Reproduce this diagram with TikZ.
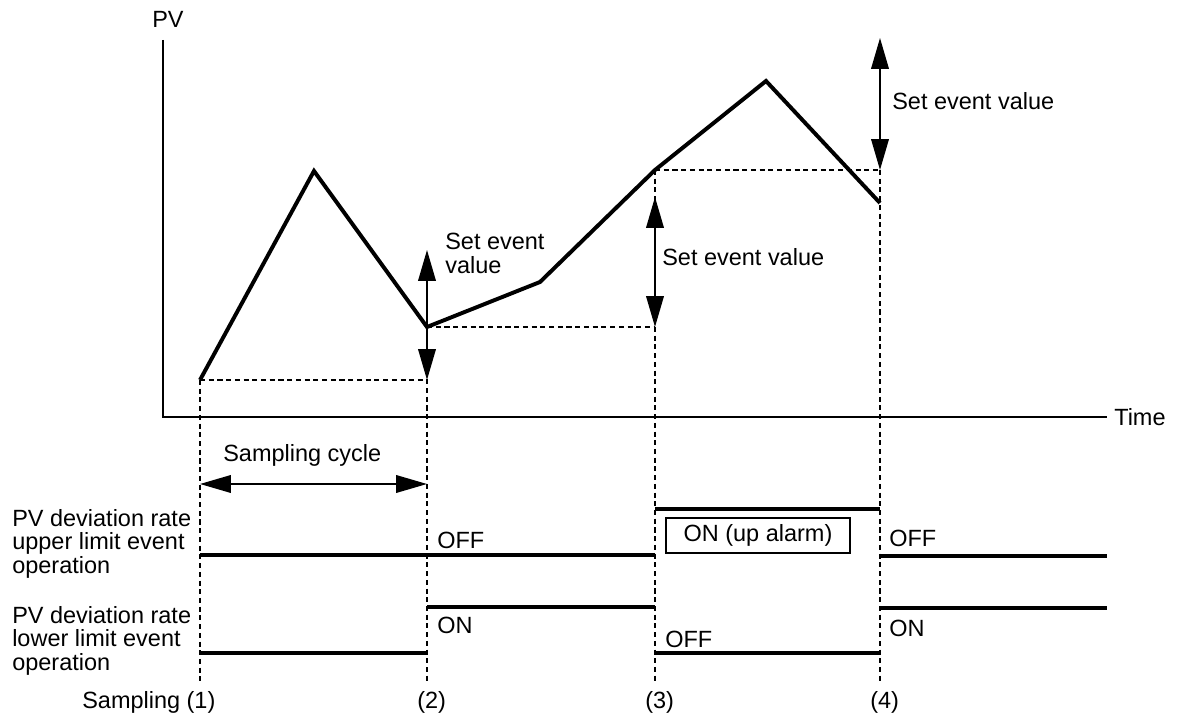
\documentclass[tikz,border=0pt]{standalone}
\usepackage{fontspec}
\setmainfont{Liberation Sans}
\usetikzlibrary{arrows.meta,positioning,calc}

\begin{document}
\begin{tikzpicture}[
  x=0.025cm, y=-0.025cm,
  lbl/.style={inner sep=0pt, font=\fontsize{16.7}{16.7}\selectfont},
  axis/.style={line width=1.4pt},
  pvline/.style={line width=2.8pt, line join=miter},
  guide/.style={line width=1.3pt, dash pattern=on 3.6pt off 2.6pt},
  evline/.style={line width=2.8pt},
  dimarr/.style={{Triangle[length=22pt,width=12.5pt]}-{Triangle[length=22pt,width=12.5pt]}, line width=1.3pt},
]
  \useasboundingbox (0,0) rectangle (1180,715);

  % axes
  \coordinate (ytop) at (163,40);
  \coordinate (orig) at (163,417);
  \coordinate (xend) at (1107,417);
  \node[lbl, anchor=base west] (pv) at (152,28) {PV};
  \node[lbl, anchor=base west] (time) at (1114,426) {Time};
  \draw[axis] (ytop) -- (orig) -- (xend);

  % PV curve
  \coordinate (p1) at (200,380);
  \coordinate (p2) at (314,171);
  \coordinate (p3) at (427,327);
  \coordinate (p4) at (540,282);
  \coordinate (p5) at (655,170);
  \coordinate (p6) at (766,81);
  \coordinate (p7) at (880,203);

  % levels held from the last sampling
  \coordinate (h1) at (427,380);
  \coordinate (h2) at (655,327);
  \coordinate (h3) at (880,170);
  \draw[guide] (p1) -- (h1);
  \draw[guide] (p3) -- (h2);
  \draw[guide] (p5) -- (h3);

  % sampling instants
  \foreach \x/\n in {200/1, 427/2, 655/3, 880/4}
    \coordinate (b\n) at (\x,682);
  \draw[guide] (p1) -- (b1);
  \draw[guide] (p3) -- (b2);
  \draw[guide] (p5) -- (b3);
  \draw[guide] (h3) -- (b4);

  \draw[pvline] (p1) -- (p2) -- (p3) -- (p4) -- (p5) -- (p6) -- (p7);

  % set event values
  \coordinate (a1) at (427,250);
  \coordinate (a2) at (655,197);
  \coordinate (a3) at (880,38);
  \draw[dimarr] (a1) -- (h1);
  \draw[dimarr] (a2) -- (h2);
  \draw[dimarr] (a3) -- (h3);
  \node[lbl, anchor=north west, align=left] (sev1) at (445,233) {Set event\\value};
  \node[lbl, anchor=base west] (sev2) at (662,266) {Set event value};
  \node[lbl, anchor=base west] (sev3) at (892,110) {Set event value};

  % sampling cycle
  \coordinate (sc1) at (200,484);
  \coordinate (sc2) at (427,484);
  \draw[dimarr] (sc1) -- (sc2);
  \node[lbl, anchor=base west] (cycle) at (223,462) {Sampling cycle};

  % upper limit event
  \node[lbl, anchor=north west, align=left] (upper) at (12,509) {PV deviation rate\\upper limit event\\operation};
  \draw[evline] (200,555) -- (655,555);
  \draw[evline] (655,509) -- (880,509);
  \draw[evline] (880,556) -- (1107,556);
  \node[lbl, anchor=base west] (uoff1) at (437,548) {OFF};
  \node[lbl, draw, line width=1.2pt, minimum width=4.6cm, minimum height=0.875cm] (uon) at (758,535.5) {ON (up alarm)};
  \node[lbl, anchor=base west] (uoff2) at (889,546) {OFF};

  % lower limit event
  \node[lbl, anchor=north west, align=left] (lower) at (12,606) {PV deviation rate\\lower limit event\\operation};
  \draw[evline] (200,653) -- (427,653);
  \draw[evline] (427,607) -- (655,607);
  \draw[evline] (655,653) -- (880,653);
  \draw[evline] (880,608) -- (1107,608);
  \node[lbl, anchor=base west] (lon1) at (437,633) {ON};
  \node[lbl, anchor=base west] (loff) at (665,647) {OFF};
  \node[lbl, anchor=base west] (lon2) at (889,636) {ON};

  % sampling numbers
  \node[lbl, anchor=base west] (smp1) at (82,708) {Sampling (1)};
  \node[lbl, anchor=base west] (smp2) at (417,708) {(2)};
  \node[lbl, anchor=base west] (smp3) at (645,708) {(3)};
  \node[lbl, anchor=base west] (smp4) at (870,708) {(4)};
\end{tikzpicture}
\end{document}
